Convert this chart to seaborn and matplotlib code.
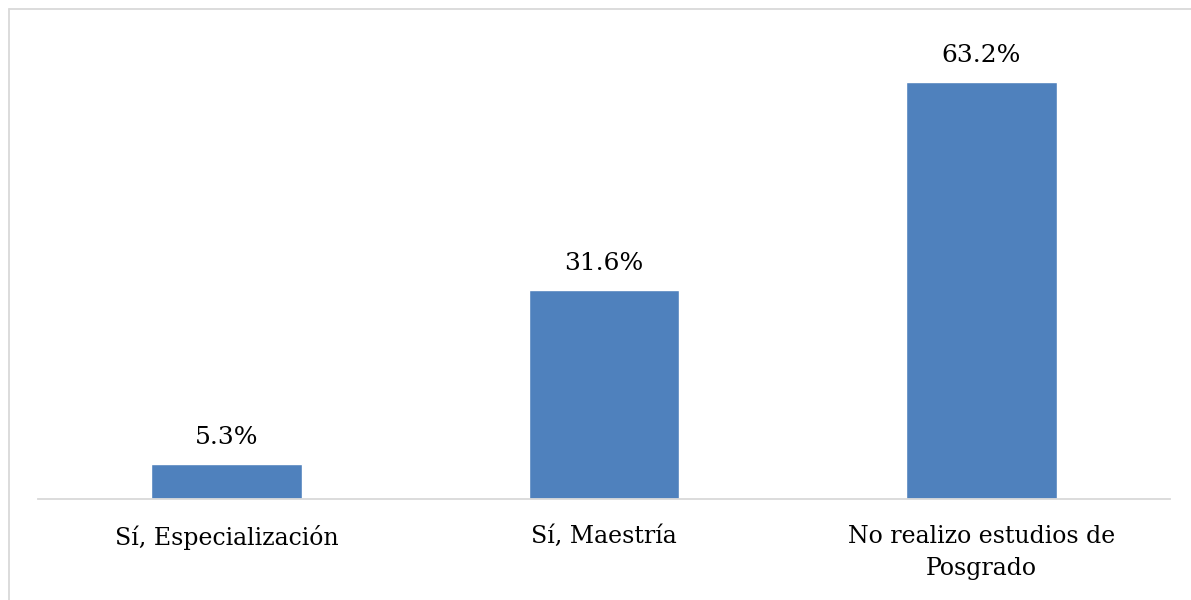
import matplotlib
matplotlib.use("Agg")
import matplotlib.pyplot as plt
import seaborn as sns
import pandas as pd
from matplotlib.lines import Line2D

categories = ["Sí, Especialización", "Sí, Maestría", "No realizo estudios de\nPosgrado"]
values = [5.3, 31.6, 63.2]
value_labels = ["5.3%", "31.6%", "63.2%"]

sns.set_theme(style="white")
plt.rcParams['font.family'] = ['DejaVu Serif']

df = pd.DataFrame({"cat": categories, "val": values})

W, H = 1191, 600
fig = plt.figure(figsize=(W / 100, H / 100), dpi=100)
ax = fig.add_axes([38 / W, (600 - 499) / H, (1170 - 38) / W, (499 - 37) / H])

sns.barplot(data=df, x="cat", y="val", color="#4F81BD", saturation=1, width=0.4, ax=ax)

ax.set_ylim(0, 70)
ax.set_xlim(-0.5, 2.5)
ax.set_xlabel("")
ax.set_ylabel("")
ax.set_yticks([])
for s in ["top", "right", "left"]:
    ax.spines[s].set_visible(False)
ax.spines["bottom"].set_color("#D9D9D9")
ax.spines["bottom"].set_linewidth(1.3)
ax.tick_params(axis="x", length=0, pad=19, labelsize=17, colors="black")
for lbl in ax.get_xticklabels():
    lbl.set_linespacing(1.5)

for i, (v, t) in enumerate(zip(values, value_labels)):
    ax.annotate(t, (i, v), xytext=(0, 11), textcoords="offset points",
                ha="center", va="bottom", fontsize=18, color="black")

# outer chart frame (left and top edges visible)
fig.add_artist(Line2D([8.5 / W, 8.5 / W], [0, 1 - 8.5 / H], transform=fig.transFigure,
                      color="#D9D9D9", lw=1.3))
fig.add_artist(Line2D([8.5 / W, 1], [1 - 8.5 / H, 1 - 8.5 / H], transform=fig.transFigure,
                      color="#D9D9D9", lw=1.3))

fig.savefig("out.png", dpi=100)
